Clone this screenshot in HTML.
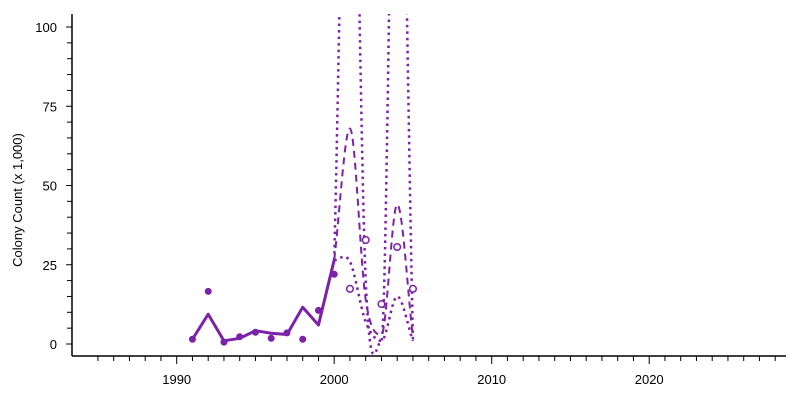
<!DOCTYPE html>
<html><head><meta charset="utf-8"><style>
html,body{margin:0;padding:0;background:#fff;width:800px;height:400px;overflow:hidden}
svg text{font-family:"Liberation Sans",Arial,sans-serif;font-size:13px;fill:#000}
</style></head><body>
<svg id="chart" width="800" height="400" viewBox="0 0 800 400" xmlns="http://www.w3.org/2000/svg">
<defs><clipPath id="plotclip"><rect x="72" y="14" width="714" height="342"/></clipPath></defs>
<g id="axes"></g>
<g id="marks" clip-path="url(#plotclip)"></g>
<text transform="translate(22,200) rotate(-90)" text-anchor="middle">Colony Count (x 1,000)</text>
</svg>
<script>
const obsYears = [1991,1992,1993,1994,1995,1996,1997,1998,1999,2000];
const obsValues = [1.5,16.6,0.6,2.3,3.7,1.8,3.5,1.5,10.6,22];
const fitYears = [1991,1992,1993,1994,1995,1996,1997,1998,1999,2000];
const fitValues = [1.5,9.4,1.0,1.8,4.2,3.4,3.0,11.6,6.0,26.5];
const projPtYears = [2001,2002,2003,2004,2005];
const projPtValues = [17.4,32.8,12.6,30.6,17.4];
const projYears = [2000,2001,2002,2003,2004,2005];
const projMean = [26.5,68,14,3,44,2];
const projUpper = [26.5,220,20,1,220,1];
const projLower = [26.5,26,7,1,15,1];
const yTicks = [0,25,50,75,100];
const xTickLabels = [1990,2000,2010,2020];

const COLOR = '#7b22a8';
const X0=1990, PX0=176.7, PXY=15.75;
const x = v => PX0 + (v - X0)*PXY;
const y = v => 344 - v*3.17;
const NS='http://www.w3.org/2000/svg';
function mk(tag, attrs, parent){const e=document.createElementNS(NS,tag);for(const k in attrs)e.setAttribute(k,attrs[k]);parent.appendChild(e);return e;}
const axes=document.getElementById('axes'), marks=document.getElementById('marks');

let e=mk('line',{x1:72,y1:14,x2:72,y2:356,stroke:'#000','stroke-width':1.5},axes);


e=mk('line',{x1:72,y1:356,x2:786,y2:356,stroke:'#000','stroke-width':1.5},axes);


for(let v=0; v<=100; v+=5){
  const major = v%25===0;
  e=mk('line',{x1:major?66:67,y1:y(v),x2:72,y2:y(v),stroke:'#000','stroke-width':1},axes);
  
  
}
yTicks.forEach(v=>{
  e=mk('text',{x:57,y:y(v)+5,'text-anchor':'end'},axes); e.textContent=v;
  
  
});
for(let yr=1985; yr<=2028; yr++){
  const major = yr%10===0;
  e=mk('line',{x1:x(yr),y1:356,x2:x(yr),y2:major?364:361,stroke:'#000','stroke-width':1},axes);
  
  
}
xTickLabels.forEach(v=>{
  e=mk('text',{x:x(v),y:384,'text-anchor':'middle'},axes); e.textContent=v;
  
  
});

// monotone cubic (Fritsch-Carlson) — no overshoot
function spline(xs, ys){
  const p=xs.map((a,i)=>[x(a),y(ys[i])]);
  const n=p.length, dl=[], m=[];
  for(let i=0;i<n-1;i++) dl.push((p[i+1][1]-p[i][1])/(p[i+1][0]-p[i][0]));
  for(let i=0;i<n;i++){
    if(i===0) m.push(dl[0]); else if(i===n-1) m.push(dl[n-2]);
    else m.push(dl[i-1]*dl[i]<=0?0:(dl[i-1]+dl[i])/2);
  }
  let d='M'+p[0][0]+','+p[0][1];
  for(let i=0;i<n-1;i++){
    const h=(p[i+1][0]-p[i][0])/3;
    d+=' C'+(p[i][0]+h)+','+(p[i][1]+m[i]*h)+' '+(p[i+1][0]-h)+','+(p[i+1][1]-m[i+1]*h)+' '+p[i+1][0]+','+p[i+1][1];
  }
  return d;
}
e=mk('polyline',{points:fitYears.map((a,i)=>x(a)+','+y(fitValues[i])).join(' '),fill:'none',stroke:COLOR,'stroke-width':3,'stroke-linejoin':'round'},marks);


e=mk('path',{d:spline(projYears,projMean),fill:'none',stroke:COLOR,'stroke-width':2,'stroke-dasharray':'7,5'},marks);


e=mk('path',{d:spline(projYears,projUpper),fill:'none',stroke:COLOR,'stroke-width':2.5,'stroke-dasharray':'2.5,4'},marks);


e=mk('path',{d:spline(projYears,projLower),fill:'none',stroke:COLOR,'stroke-width':2.5,'stroke-dasharray':'2.5,4'},marks);


obsYears.forEach((a,i)=>{
  e=mk('circle',{cx:x(a),cy:y(obsValues[i]),r:3.5,fill:COLOR},marks);
  
  
});
projPtYears.forEach((a,i)=>{
  e=mk('circle',{cx:x(a),cy:y(projPtValues[i]),r:3.3,fill:'#fff',stroke:COLOR,'stroke-width':1.5},marks);
  
  
});
</script>
</body></html>
